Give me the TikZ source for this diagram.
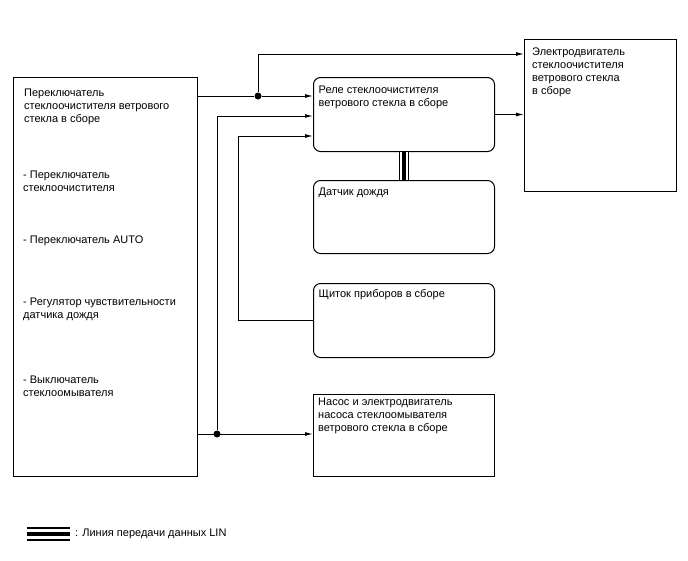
\documentclass[tikz,border=0pt]{standalone}
\usepackage{fontspec}
\setmainfont{Liberation Sans}
\usetikzlibrary{arrows.meta}

\begin{document}
\begin{tikzpicture}[x=1pt,y=-1pt,
  box/.style={draw,line width=1pt,inner sep=0pt,anchor=north west},
  rbox/.style={box,rounded corners=7pt},
  txt/.style={anchor=base west,inner sep=0pt,align=left,font=\fontsize{11}{12.8}\selectfont},
  wire/.style={line width=1pt},
  arr/.style={wire,-{Latex[length=8pt,width=4pt]}},
  dot/.style={circle,fill,inner sep=0pt,minimum size=7pt},
  lin/.style={line width=10.4pt,postaction={draw=white,line width=7.4pt},postaction={draw=black,line width=3.4pt}},
  lgd/.style={line width=14pt,postaction={draw=white,line width=10.8pt},postaction={draw=black,line width=3.6pt}}]
  \useasboundingbox (0,0) rectangle (688,560);

  % blocks
  \node[box,minimum width=184pt,minimum height=399pt] (sw) at (13,77) {};
  \node[rbox,minimum width=181pt,minimum height=74pt] (relay) at (313,77) {};
  \node[box,minimum width=152pt,minimum height=152pt] (motor) at (524,39) {};
  \node[rbox,minimum width=181pt,minimum height=73pt] (rain) at (313,180) {};
  \node[rbox,minimum width=181pt,minimum height=74pt] (cluster) at (313,283) {};
  \node[box,minimum width=181pt,minimum height=82pt] (pump) at (313,394) {};

  % texts (placed at the baseline of the last line)
  \node[txt] (sw1) at (24,122.5) {Переключатель\\стеклоочистителя ветрового\\стекла в сборе};
  \node[txt] (sw2) at (23,191) {- Переключатель\\стеклоочистителя};
  \node[txt] (sw3) at (23,243) {- Переключатель AUTO};
  \node[txt] (sw4) at (23,318) {- Регулятор чувствительности\\датчика дождя};
  \node[txt] (sw5) at (23,396) {- Выключатель\\стеклоомывателя};
  \node[txt] (relay1) at (318.5,106) {Реле стеклоочистителя\\ветрового стекла в сборе};
  \node[txt] (motor1) at (532,94.3) {Электродвигатель\\стеклоочистителя\\ветрового стекла\\в сборе};
  \node[txt] (rain1) at (318.5,195.5) {Датчик дождя};
  \node[txt] (cluster1) at (318.5,297) {Щиток приборов в сборе};
  \node[txt] (pump1) at (318,431) {Насос и электродвигатель\\насоса стеклоомывателя\\ветрового стекла в сборе};

  % junctions and bends
  \node[dot] (j1) at (258,96) {};
  \node[dot] (j2) at (217,434) {};
  \coordinate (k1) at (217,116);
  \coordinate (k2) at (238,136);
  \coordinate (k3) at (524,54);

  \draw[wire] (sw.east |- j1) -- (j1);
  \draw[arr] (j1) -- (relay.west |- j1);
  \draw[arr] (j1) |- (k3);
  \draw[arr] (j2) -- (k1) -- (relay.west |- k1);
  \draw[arr] (cluster.west) -| (k2) -- (relay.west |- k2);
  \draw[arr] (relay.east) -- (motor.west |- relay.east);
  \draw[arr] (sw.east |- j2) -- (pump.west |- j2);
  \draw[lin] (relay.south) -- (rain.north);

  % legend
  \coordinate (lg1) at (27,534);
  \coordinate (lg2) at (70,534);
  \draw[lgd] (lg1) -- (lg2);
  \node[txt] (lgtxt) at (75,536) {: Линия передачи данных LIN};
\end{tikzpicture}
\end{document}
